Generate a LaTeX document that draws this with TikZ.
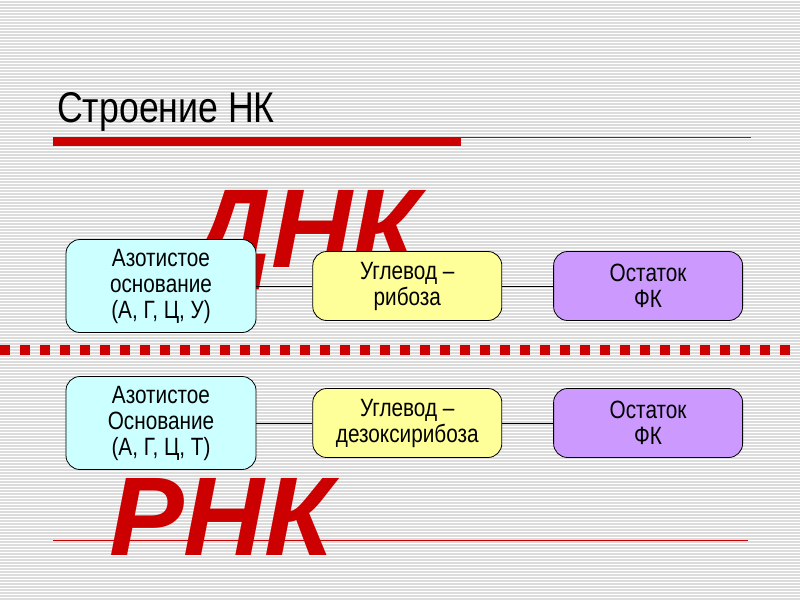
\documentclass[tikz,border=0pt]{standalone}
\usepackage{fontspec}
\setmainfont{Liberation Sans}
\newfontfamily\slidefont[FakeStretch=0.83]{Liberation Sans}
\usetikzlibrary{positioning}
\definecolor{stripegray}{RGB}{220,220,220}
\definecolor{slidered}{RGB}{204,0,0}
\definecolor{basecyan}{RGB}{204,255,255}
\definecolor{sugaryellow}{RGB}{255,255,153}
\definecolor{phoslilac}{RGB}{204,153,255}
\tikzset{
  part/.style={draw=black, line width=0.8pt, rounded corners=14pt, align=center,
    inner sep=0pt, font=\slidefont\fontsize{25}{26}\selectfont},
  bigpart/.style={part, minimum width=190pt, minimum height=93pt},
  smallpart/.style={part, minimum width=189pt, minimum height=69pt},
  bond/.style={line width=0.8pt, black},
  acid/.style={text=slidered, inner sep=0pt, anchor=base west,
    font=\fontsize{112}{112}\selectfont\bfseries\itshape}
}
\begin{document}
\begin{tikzpicture}[x=1pt, y=-1pt]
\useasboundingbox (0,0) rectangle (800,600);
\fill[stripegray] (0,0) rectangle (800,600);
\foreach \y in {0,3,...,597}
  \fill[white] (0,\y) rectangle (800,\y+1);

\node[inner sep=0pt, anchor=base west, font=\slidefont\fontsize{43}{43}\selectfont] (title) at (57,122) {Строение НК};
\fill[slidered] (53,137) rectangle (461,146);
\draw[slidered, line width=1pt] (461,137.5) -- (751,137.5);

\foreach \x in {0,20,...,780}
  \fill[slidered] (\x,345) rectangle (\x+10,355);

\node[acid] (dnk) at (190,267) {ДНК};
\node[acid] (rnk) at (109,555) {РНК};
\draw[slidered, line width=1pt] (53,540) -- (748,540);

\node[bigpart, fill=basecyan] (baseA) at (161,286) {Азотистое\\основание\\(А, Г, Ц, У)};
\node[smallpart, fill=sugaryellow, right=56pt of baseA] (sugarA) {Углевод –\\рибоза};
\node[smallpart, fill=phoslilac, right=51pt of sugarA] (phosA) {Остаток\\ФК};
\draw[bond] (baseA) -- (sugarA);
\draw[bond] (sugarA) -- (phosA);

\node[bigpart, fill=basecyan] (baseB) at (161,423) {Азотистое\\Основание\\(А, Г, Ц, Т)};
\node[smallpart, fill=sugaryellow, right=56pt of baseB] (sugarB) {Углевод –\\дезоксирибоза};
\node[smallpart, fill=phoslilac, right=51pt of sugarB] (phosB) {Остаток\\ФК};
\draw[bond] (baseB) -- (sugarB);
\draw[bond] (sugarB) -- (phosB);
\end{tikzpicture}
\end{document}
